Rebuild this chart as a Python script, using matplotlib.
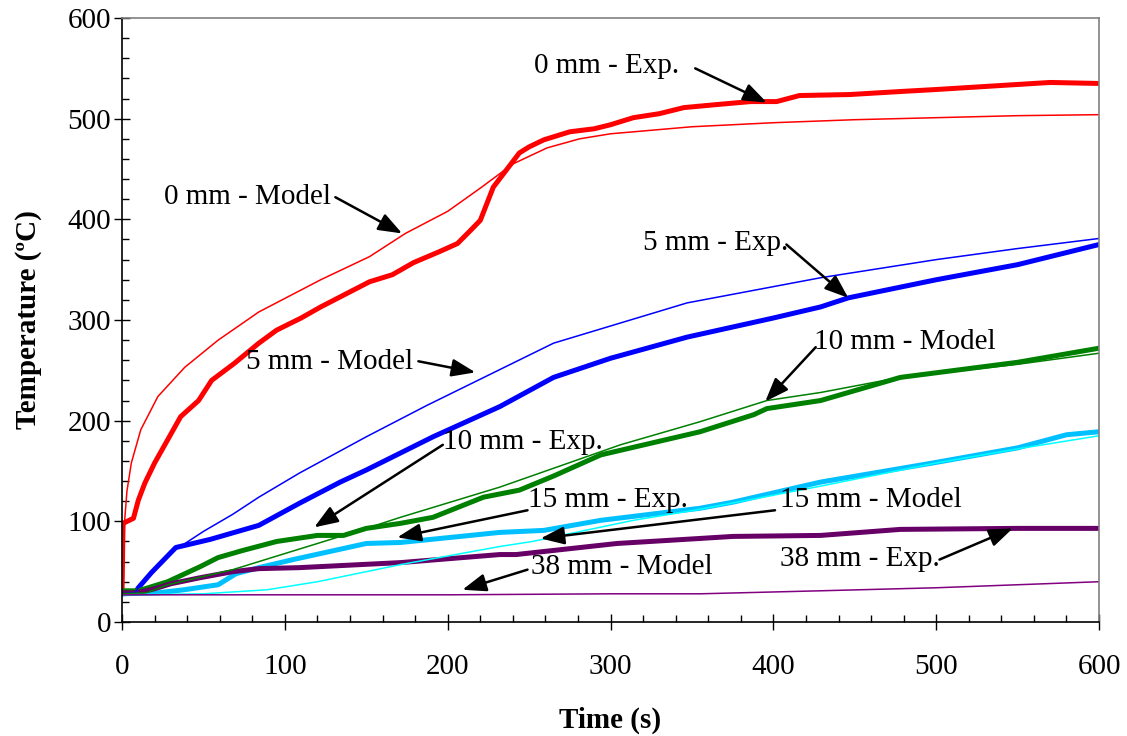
import matplotlib
matplotlib.use("Agg")
import matplotlib.pyplot as plt
from matplotlib.ticker import MultipleLocator

plt.rcParams['font.family'] = ['Liberation Serif', 'DejaVu Serif']

# measured (Exp.) and computed (Model) temperatures at each depth
t_0_exp = [0, 0.6, 7, 10, 14, 20, 28, 36, 47, 55, 69, 84, 95, 110, 122, 140, 152, 166,
           179, 195, 206, 214, 220, 228, 236, 244, 250, 259, 275, 290, 300, 314, 330, 345,
           365, 386, 402, 416, 447, 478, 500, 540, 570, 600]
T_0_exp = [30, 98, 103, 121, 138, 158, 181, 204, 220, 240, 257, 277, 290, 302, 313, 328, 338, 345,
           357, 368, 376, 389, 399, 432, 449, 466, 472, 479, 487, 490, 494, 501, 505, 511,
           514, 517, 517, 523, 524, 527, 529, 533, 536, 535]
t_0_mod = [0, 1.6, 3, 5.7, 11.5, 22, 38.5, 59, 84, 122, 152, 174, 200, 220, 240, 261, 281, 300,
           350, 400, 450, 500, 550, 600]
T_0_mod = [30, 101, 130, 158, 191, 224, 253, 280, 308, 340, 363, 386, 408, 431, 455, 471, 480, 485,
           492, 496, 499, 501, 503, 504]

t_5_exp = [0, 8, 10, 18, 33, 54, 84, 109, 134, 150, 191, 232, 265, 300, 347, 400, 429, 446,
           500, 550, 600]
T_5_exp = [28, 29, 34, 49, 74, 82, 96, 118, 139, 151, 184, 214, 243, 262, 283, 302, 313, 322,
           340, 355, 375]
t_5_mod = [0, 8, 10, 18, 33, 50, 68, 84, 109, 150, 187, 265, 347, 429, 500, 550, 600]
T_5_mod = [28, 29, 34, 49, 72, 90, 107, 124, 148, 184, 215, 277, 317, 342, 360, 371, 381]

t_10_exp = [0, 10, 28, 48, 59, 74, 95, 120, 136, 150, 171, 191, 222, 244, 265, 294, 355, 388, 396,
            429, 478, 550, 600]
T_10_exp = [31, 31, 40, 55, 64, 71, 80, 86, 86, 93, 98, 104, 124, 131, 145, 166, 189, 206, 212,
            220, 243, 258, 272]
t_10_mod = [0, 15, 28, 68, 150, 171, 232, 306, 355, 396, 429, 478, 550, 600]
T_10_mod = [28, 29, 37, 52, 93, 104, 134, 176, 199, 220, 228, 243, 256, 267]

t_15_exp = [0, 22, 38, 59, 70, 84, 105, 150, 171, 232, 259, 294, 355, 375, 429, 498, 550, 580, 600]
T_15_exp = [28, 29, 32, 37, 48, 54, 62, 78, 79, 89, 91, 101, 113, 119, 139, 158, 173, 186, 189]
t_15_mod = [0, 50, 89, 120, 150, 171, 232, 252, 314, 355, 429, 500, 550, 600]
T_15_mod = [27, 28, 32, 40, 50, 57, 75, 80, 101, 112, 135, 158, 172, 185]

t_38_exp = [0, 9, 20, 30, 48, 68, 84, 109, 171, 232, 242, 304, 355, 375, 429, 478, 550, 600]
T_38_exp = [29, 29, 33, 38, 44, 50, 53, 54, 59, 67, 67, 78, 83, 85, 86, 92, 93, 93]
t_38_mod = [0, 200, 300, 355, 429, 500, 600]
T_38_mod = [27, 27, 28, 28, 31, 34, 40]

fig = plt.figure(figsize=(11.27, 7.36), dpi=100)
ax = fig.add_axes([0.1083, 0.1549, 0.8669, 0.8206])

thick = 3.6
thin = 1.1
ax.plot(t_0_exp, T_0_exp, color='#ff0000', lw=thick)
ax.plot(t_5_exp, T_5_exp, color='#0000ff', lw=thick)
ax.plot(t_10_exp, T_10_exp, color='#008000', lw=thick)
ax.plot(t_15_exp, T_15_exp, color='#00c0ff', lw=thick)
ax.plot(t_38_exp, T_38_exp, color='#660066', lw=thick)
ax.plot(t_0_mod, T_0_mod, color='#ff0000', lw=thin)
ax.plot(t_5_mod, T_5_mod, color='#0000ff', lw=thin)
ax.plot(t_10_mod, T_10_mod, color='#008000', lw=thin)
ax.plot(t_15_mod, T_15_mod, color='#00ffff', lw=thin)
ax.plot(t_38_mod, T_38_mod, color='#800080', lw=thin)

# labels: text, text anchor (left, centre), arrow start, arrow tip
notes = [
    ("0 mm - Exp.", (253, 552), (352, 550), (396, 516)),
    ("0 mm - Model", (26, 422), (131, 422), (172, 386)),
    ("5 mm - Exp.", (320, 377), (408, 375), (446, 322)),
    ("5 mm - Model", (76, 258), (182, 259), (217, 248)),
    ("10 mm - Model", (425, 278), (426, 273), (395, 219)),
    ("10 mm - Exp.", (197, 179), (197, 176), (118, 94)),
    ("15 mm - Exp.", (249, 121), (249, 111), (169, 84)),
    ("15 mm - Model", (404, 121), (401, 111), (257, 83)),
    ("38 mm - Model", (251, 55), (249, 52), (209, 32)),
    ("38 mm - Exp.", (404, 63), (502, 62), (547, 93)),
]
for label, pos, start, tip in notes:
    ax.text(pos[0], pos[1], label, fontsize=21, ha='left', va='center')
    ax.annotate('', xy=tip, xytext=start,
                arrowprops=dict(arrowstyle='-|>,head_length=1.2,head_width=0.45',
                                mutation_scale=12, color='black', lw=1.8,
                                shrinkA=0, shrinkB=0))

ax.set_xlim(0, 600)
ax.set_ylim(0, 600)
ax.xaxis.set_major_locator(MultipleLocator(100))
ax.xaxis.set_minor_locator(MultipleLocator(20))
ax.yaxis.set_major_locator(MultipleLocator(100))
ax.yaxis.set_minor_locator(MultipleLocator(20))
ax.tick_params(axis='x', which='major', direction='inout', length=12, width=1, pad=17, labelsize=21)
ax.tick_params(axis='y', which='major', direction='inout', length=12, width=1, pad=2, labelsize=21)
ax.tick_params(which='minor', direction='in', length=5, width=1)

for side in ('left', 'bottom'):
    ax.spines[side].set_color('black')
    ax.spines[side].set_linewidth(1.2)
for side in ('top', 'right'):
    ax.spines[side].set_color('#808080')
    ax.spines[side].set_linewidth(1.2)

ax.set_xlabel('Time (s)', fontsize=21, fontweight='bold', labelpad=19)
ax.set_ylabel('Temperature (ºC)', fontsize=21, fontweight='bold', labelpad=18)

fig.savefig('out.png', dpi=100)
